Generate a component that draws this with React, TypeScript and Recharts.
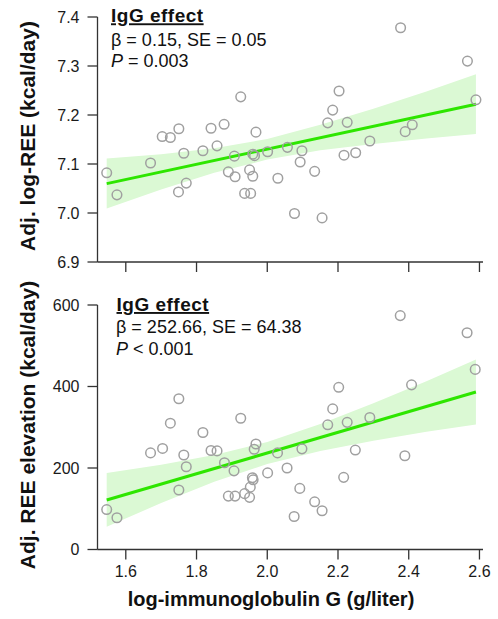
import { ComposedChart, Scatter, Line, Area, XAxis, YAxis } from 'recharts';

// log-IgG per subject, top panel
const iggTop = [
  1.546, 1.575, 1.67, 1.703, 1.726, 1.75, 1.764, 1.749, 1.771, 1.818, 1.841, 1.858, 1.878, 1.907, 1.89,
  1.909, 1.925, 1.936, 1.953, 1.95, 1.959, 1.968, 1.959, 1.964, 2.001, 2.03, 2.057, 2.077, 2.098, 2.093,
  2.134, 2.155, 2.171, 2.185, 2.203, 2.226, 2.217, 2.25, 2.29, 2.377, 2.39, 2.41, 2.566, 2.59,
];
const logRee = [
  7.082, 7.037, 7.102, 7.156, 7.154, 7.172, 7.122, 7.043, 7.061, 7.127, 7.173, 7.137, 7.181, 7.116, 7.084,
  7.074, 7.237, 7.04, 7.04, 7.088, 7.075, 7.165, 7.12, 7.117, 7.125, 7.071, 7.134, 6.999, 7.127, 7.104,
  7.085, 6.99, 7.184, 7.21, 7.249, 7.185, 7.118, 7.123, 7.147, 7.378, 7.166, 7.18, 7.31, 7.231,
];

// bottom panel
const iggBottom = [
  1.546, 1.575, 1.67, 1.704, 1.726, 1.75, 1.764, 1.771, 1.75, 1.818, 1.841, 1.858, 1.879, 1.906, 1.89,
  1.909, 1.925, 1.936, 1.95, 1.952, 1.958, 1.96, 1.968, 1.963, 2.001, 2.029, 2.056, 2.098, 2.092, 2.076,
  2.134, 2.155, 2.171, 2.185, 2.202, 2.226, 2.216, 2.249, 2.29, 2.376, 2.389, 2.408, 2.565, 2.588,
];
const reeElevation = [
  98, 78, 237, 248, 310, 370, 232, 203, 146, 287, 243, 242, 213, 193, 131,
  131, 322, 137, 128, 153, 176, 171, 259, 246, 188, 237, 200, 247, 150, 81,
  117, 95, 306, 345, 398, 312, 177, 244, 324, 574, 230, 404, 532, 442,
];

// fitted lines and 95% bands
const fitX = [1.546, 2.59];
const logReeFit = [7.06, 7.222];
const reeFit = [121.5, 386.5];
const bandX = [1.546, 1.7, 1.85, 2.0, 2.15, 2.3, 2.45, 2.59];
const logReeLow = [7.009, 7.048, 7.082, 7.109, 7.128, 7.141, 7.152, 7.161];
const logReeHigh = [7.111, 7.12, 7.132, 7.151, 7.18, 7.213, 7.248, 7.283];
const reeLow = [56, 114, 166, 210, 242, 267, 289, 307];
const reeHigh = [188, 208, 232, 264, 308, 359, 413, 466];

const xTicks = [1.6, 1.8, 2.0, 2.2, 2.4, 2.6];
const logReeTicks = [6.9, 7.0, 7.1, 7.2, 7.3, 7.4];
const reeTicks = [0, 200, 400, 600];

const FONT = '"Liberation Sans", Arial, Helvetica, sans-serif';
const AXIS = '#333333';
const GREEN = '#2ee600';
const BAND = '#dbf9d4';
const POINT = '#a0a0a0';

const Ring = (p: any) => (
  <circle cx={p.cx} cy={p.cy} r={4.8} fill="none" stroke={POINT} strokeWidth={1.5} />
);

const tickStyle = { fontSize: 16, fill: '#1a1a1a', fontFamily: FONT };

interface PanelProps {
  xs: number[];
  ys: number[];
  fit: number[];
  low: number[];
  high: number[];
}

function buildRows({ xs, ys, fit, low, high }: PanelProps) {
  return {
    points: xs.map((x, i) => ({ x, y: ys[i] })),
    fitLine: fitX.map((x, i) => ({ x, y: fit[i] })),
    band: bandX.map((x, i) => ({ x, range: [low[i], high[i]] })),
  };
}

const top = buildRows({ xs: iggTop, ys: logRee, fit: logReeFit, low: logReeLow, high: logReeHigh });
const bottom = buildRows({ xs: iggBottom, ys: reeElevation, fit: reeFit, low: reeLow, high: reeHigh });

export default function App() {
  return (
    <div style={{ position: 'absolute', left: 0, top: 0, width: 498, height: 619, background: '#fff', fontFamily: FONT }}>
      <div style={{ position: 'absolute', left: 0, top: 0 }}>
        <ComposedChart width={498} height={280} margin={{ top: 17, right: 15, bottom: 0, left: 37.5 }}>
          <XAxis
            type="number"
            dataKey="x"
            domain={[1.52, 2.61]}
            ticks={xTicks}
            allowDataOverflow
            height={18}
            tickSize={10}
            tickFormatter={() => ''}
            axisLine={{ stroke: AXIS, strokeWidth: 1.3 }}
            tickLine={{ stroke: AXIS, strokeWidth: 1.3 }}
          />
          <YAxis
            type="number"
            domain={[6.9, 7.4]}
            ticks={logReeTicks}
            allowDataOverflow
            width={60}
            tickSize={10}
            tickMargin={8}
            tickFormatter={(v: number) => v.toFixed(1)}
            tick={tickStyle}
            axisLine={{ stroke: AXIS, strokeWidth: 1.3 }}
            tickLine={{ stroke: AXIS, strokeWidth: 1.3 }}
          />
          <Area data={top.band} dataKey="range" type="linear" stroke="none" fill={BAND} fillOpacity={1} isAnimationActive={false} />
          <Scatter data={top.points} dataKey="y" shape={Ring} isAnimationActive={false} />
          <Line data={top.fitLine} dataKey="y" type="linear" stroke={GREEN} strokeWidth={3} dot={false} isAnimationActive={false} />
          <text transform="translate(27.5,136) rotate(-90)" textAnchor="middle" dominantBaseline="central"
            style={{ fontSize: 21, fontWeight: 'bold', fontFamily: FONT, fill: '#111' }}>
            Adj. log-REE (kcal/day)
          </text>
          <g style={{ fontFamily: FONT, fill: '#111' }}>
            <text x={111} y={22.3} style={{ fontSize: 19, fontWeight: 'bold', textDecoration: 'underline', letterSpacing: 0.5 }}>IgG effect</text>
            <text x={111} y={45.5} style={{ fontSize: 18 }}>β = 0.15, SE = 0.05</text>
            <text x={111} y={66.5} style={{ fontSize: 18 }}><tspan fontStyle="italic">P</tspan> = 0.003</text>
          </g>
        </ComposedChart>
      </div>
      <div style={{ position: 'absolute', left: 0, top: 280 }}>
        <ComposedChart width={498} height={339} margin={{ top: 25, right: 15, bottom: 9.5, left: 37.5 }}>
          <XAxis
            type="number"
            dataKey="x"
            domain={[1.52, 2.61]}
            ticks={xTicks}
            allowDataOverflow
            height={60}
            tickSize={10}
            tickMargin={6}
            tickFormatter={(v: number) => v.toFixed(1)}
            tick={tickStyle}
            axisLine={{ stroke: AXIS, strokeWidth: 1.3 }}
            tickLine={{ stroke: AXIS, strokeWidth: 1.3 }}
          />
          <YAxis
            type="number"
            domain={[0, 600]}
            ticks={reeTicks}
            allowDataOverflow
            width={60}
            tickSize={10}
            tickMargin={8}
            tick={tickStyle}
            axisLine={{ stroke: AXIS, strokeWidth: 1.3 }}
            tickLine={{ stroke: AXIS, strokeWidth: 1.3 }}
          />
          <Area data={bottom.band} dataKey="range" type="linear" stroke="none" fill={BAND} fillOpacity={1} isAnimationActive={false} />
          <Scatter data={bottom.points} dataKey="y" shape={Ring} isAnimationActive={false} />
          <Line data={bottom.fitLine} dataKey="y" type="linear" stroke={GREEN} strokeWidth={3} dot={false} isAnimationActive={false} />
          <text transform="translate(27,145) rotate(-90)" textAnchor="middle" dominantBaseline="central"
            style={{ fontSize: 21, fontWeight: 'bold', fontFamily: FONT, fill: '#111' }}>
            Adj. REE elevation (kcal/day)
          </text>
          <text x={271} y={326} textAnchor="middle" style={{ fontSize: 20, fontWeight: 'bold', fontFamily: FONT, fill: '#111' }}>
            log-immunoglobulin G (g/liter)
          </text>
          <g style={{ fontFamily: FONT, fill: '#111' }}>
            <text x={116.5} y={31} style={{ fontSize: 19, fontWeight: 'bold', textDecoration: 'underline', letterSpacing: 0.5 }}>IgG effect</text>
            <text x={116} y={53.3} style={{ fontSize: 18 }}>β = 252.66, SE = 64.38</text>
            <text x={116} y={75} style={{ fontSize: 18 }}><tspan fontStyle="italic">P</tspan> &lt; 0.001</text>
          </g>
        </ComposedChart>
      </div>
    </div>
  );
}
